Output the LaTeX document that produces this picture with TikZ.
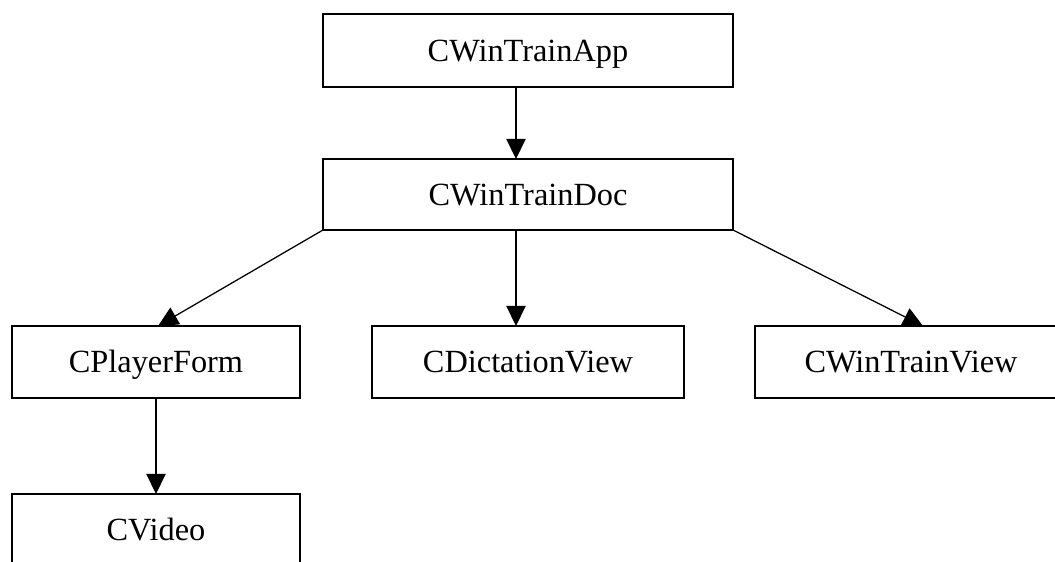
\documentclass[tikz,border=0pt]{standalone}
\usepackage{fontspec}
\setmainfont{Liberation Serif}
\usetikzlibrary{arrows.meta}

\begin{document}
\begin{tikzpicture}[x=0.025cm, y=-0.025cm, line width=0.9pt,
  every node/.style={font=\fontsize{23}{27}\selectfont},
  cls/.style={draw, rectangle, inner sep=0pt, outer sep=0pt, minimum height=1.8cm,
    text height=20.7pt, text depth=5.1pt},
  link/.style={-{Triangle[length=0.5cm, width=0.48cm]}}]

\useasboundingbox (0,0) rectangle (1055,561);
\clip (0,0) rectangle (1055,561);

% application and document
\node[cls, minimum width=10.25cm, minimum height=1.825cm] (app) at (528, 50.5) {CWinTrainApp};
\node[cls, minimum width=10.25cm, minimum height=1.775cm] (doc) at (528, 194.5) {CWinTrainDoc};

% views (the right one runs off the page)
\node[cls, minimum width=7.2cm] (player) at (156, 362) {CPlayerForm};
\node[cls, minimum width=7.8cm] (dict)   at (528, 362) {CDictationView};
\node[cls, minimum width=7.8cm] (view)   at (911, 362) {CWinTrainView};
\node[cls, minimum width=7.2cm] (video)  at (156, 530) {CVideo};

% arrows
\draw[link] ([xshift=-0.3cm]app.south) -- ([xshift=-0.3cm]doc.north);
\draw[link] (doc.south west) -- ([xshift=0.05cm]player.north);
\draw[link] ([xshift=-0.3cm]doc.south) -- ([xshift=-0.3cm]dict.north);
\draw[link] (doc.south east) -- ([xshift=0.3cm]view.north);
\draw[link] (player.south) -- (video.north);

\end{tikzpicture}
\end{document}
